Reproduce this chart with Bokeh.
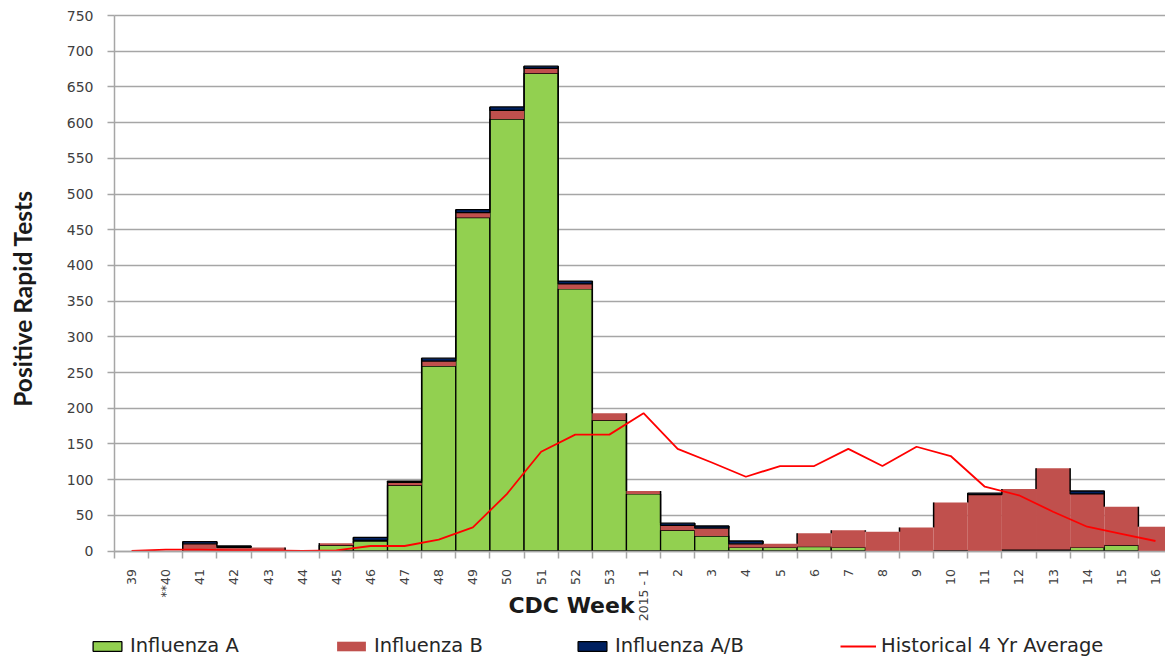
import math
from bokeh.plotting import figure
from bokeh.models import (Range1d, FixedTicker, Legend, LegendItem, Label,
                          ColumnDataSource, CDSView, BooleanFilter)
from bokeh.embed import file_html
from bokeh.resources import INLINE

# ---------------- data ----------------
weeks = ["39", "**40", "41", "42", "43", "44", "45", "46", "47", "48", "49", "50",
         "51", "52", "53", "2015 - 1", "2", "3", "4", "5", "6", "7", "8", "9", "10",
         "11", "12", "13", "14", "15", "16"]
flu_a = [0, 0, 0, 0, 0, 0, 8, 14, 92, 259, 467, 605, 669, 367, 183,
         80, 29, 21, 5, 5, 6, 5, 0, 0, 1, 0, 2, 2, 5, 8, 0]
flu_b = [0, 0, 10, 5, 5, 0, 3, 1, 4, 7, 7, 12, 7, 7, 10,
         4, 7, 11, 5, 5, 19, 24, 27, 33, 67, 79, 85, 114, 75, 54, 34]
flu_ab = [0, 0, 3, 2, 0, 0, 0, 4, 2, 4, 4, 5, 3, 4, 0,
          0, 3, 3, 4, 0, 0, 0, 0, 0, 0, 2, 0, 0, 4, 0, 0]
hist_avg = [0, 2, 2, 1, 1, 0, 1, 7, 7, 16, 33, 80, 139, 163, 163,
            193, 143, 124, 104, 119, 119, 143, 119, 146, 133, 90, 78, 55, 34, 24, 14]
y_ticks = list(range(0, 751, 50))

# ---------------- derived ----------------
n = len(weeks)
xs = list(range(n))
ab_bot = [a + b for a, b in zip(flu_a, flu_b)]
tot = [a + b + c for a, b, c in zip(flu_a, flu_b, flu_ab)]
src = ColumnDataSource(dict(x=xs, a=flu_a, b_bot=flu_a, b_top=ab_bot,
                            ab_bot=ab_bot, ab_top=tot, avg=hist_avg))

edge_x = [i + 0.5 for i in range(n - 1)]
edge_y0 = [min(tot[i], tot[i + 1]) for i in range(n - 1)]
edge_y1 = [max(tot[i], tot[i + 1]) for i in range(n - 1)]
edge_src = ColumnDataSource(dict(x=edge_x, y0=edge_y0, y1=edge_y1))

GREEN = "#92D050"
RED = "#C0504D"
NAVY = "#002060"
GRID = "#A6A6A6"

# layout (pixels): plot area left 114, 0-line at 550.5, 750-line at 15
W, H = 1165, 657
PX_X = 34.13            # px per category
PX_Y = 535.5 / 750      # px per unit
X_LEFT, Y_ZERO, Y_TOP = 114, 550.5, 15
x0 = -0.5 - X_LEFT / PX_X
x1 = -0.5 + (W - X_LEFT) / PX_X
y0 = -(H - Y_ZERO) / PX_Y
y1 = 750 + Y_TOP / PX_Y

p = figure(width=W, height=H, output_backend="svg", toolbar_location=None,
           x_range=Range1d(x0, x1), y_range=Range1d(y0, y1),
           min_border=0, min_border_left=0, min_border_right=0,
           min_border_top=0, min_border_bottom=0,
           background_fill_color="white", border_fill_color="white")
p.outline_line_color = None
p.xgrid.grid_line_color = None

g = p.ygrid[0]
if "cross_bounds" in g.properties():
    g.ticker = FixedTicker(ticks=y_ticks)
    g.cross_bounds = (-0.5, x1)
    g.grid_line_color = GRID
    g.grid_line_width = 1.5
else:
    g.grid_line_color = None
    p.segment(x0=-0.5, x1=x1, y0=y_ticks, y1=y_ticks, line_color=GRID,
              line_width=1.5, level="underlay")

r_a = p.vbar(x="x", width=1, bottom=0, top="a", source=src,
             view=CDSView(filter=BooleanFilter([v > 0 for v in flu_a])),
             fill_color=GREEN, line_color="black", line_width=1.3)
r_b = p.vbar(x="x", width=1, bottom="b_bot", top="b_top", source=src,
             fill_color=RED, line_color=None)
r_ab = p.vbar(x="x", width=1, bottom="ab_bot", top="ab_top", source=src,
              view=CDSView(filter=BooleanFilter([v > 0 for v in flu_ab])),
              fill_color=NAVY, line_color="black", line_width=1.3)
p.segment(x0="x", x1="x", y0="y0", y1="y1", source=edge_src,
          line_color="black", line_width=1.5)
r_line = p.line(x="x", y="avg", source=src, line_color="#FF0000", line_width=1.8)

# ---------------- axes ----------------
xa = p.xaxis[0]
xa.fixed_location = 0
xa.bounds = (-0.5, x1)
xa.ticker = FixedTicker(ticks=xs, minor_ticks=[i - 0.5 for i in range(n + 1)])
xa.major_label_overrides = {i: w for i, w in enumerate(weeks)}
xa.major_label_orientation = math.pi / 2
xa.major_tick_line_color = None
xa.major_tick_out = 0
xa.major_tick_in = 0
xa.minor_tick_line_color = GRID
xa.minor_tick_line_width = 1.5
xa.minor_tick_out = 7
xa.minor_tick_in = 0
xa.axis_line_color = GRID
xa.axis_line_width = 1.5
xa.major_label_standoff = 11
xa.major_label_text_font = "DejaVu Sans"
xa.major_label_text_font_size = "12.5px"
xa.major_label_text_color = "#404040"

ya = p.yaxis[0]
ya.fixed_location = -0.5
ya.bounds = (0, 750)
ya.ticker = FixedTicker(ticks=y_ticks)
ya.minor_tick_line_color = None
ya.major_tick_line_color = GRID
ya.major_tick_line_width = 1.5
ya.major_tick_out = 7
ya.major_tick_in = 0
ya.axis_line_color = GRID
ya.axis_line_width = 1.5
ya.major_label_standoff = 14
ya.major_label_text_font = "DejaVu Sans"
ya.major_label_text_font_size = "14px"
ya.major_label_text_color = "#404040"

p.add_layout(Label(x=22, y=H - 298, x_units="screen", y_units="screen",
                   text="Positive Rapid Tests", angle=math.pi / 2,
                   text_align="center", text_baseline="middle",
                   text_font="Lato", text_font_style="bold",
                   text_font_size="24.5px", text_color="#1a1a1a"))

p.add_layout(Label(x=571, y=H - 605, x_units="screen", y_units="screen",
                   text="CDC Week", text_align="center", text_baseline="middle",
                   text_font="DejaVu Sans", text_font_style="bold",
                   text_font_size="22px", text_color="#1a1a1a"))

# ---------------- legend ----------------
def add_legend(label, renderer, x_off):
    leg = Legend(items=[LegendItem(label=label, renderers=[renderer])],
                 location=(x_off, 0), orientation="horizontal",
                 glyph_width=36, glyph_height=12, label_standoff=5,
                 padding=0, margin=0, border_line_color=None,
                 background_fill_alpha=0, label_text_font="DejaVu Sans",
                 label_text_font_size="19.5px", label_text_color="#262626")
    p.add_layout(leg)

add_legend("Influenza A", r_a, 89)
add_legend("Influenza B", r_b, 333)
add_legend("Influenza A/B", r_ab, 574)
add_legend("Historical 4 Yr Average", r_line, 840)

open("out.html", "w").write(file_html(p, INLINE))
